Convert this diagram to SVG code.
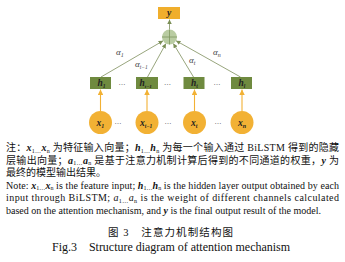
<svg xmlns="http://www.w3.org/2000/svg" width="345" height="262" viewBox="0 0 345 262">
<style>
.hbox{fill:#6F8A3F}
.xc{fill:#F2B134}
.ybox{fill:#F0AE2C}
.conn{stroke:#8C9B6E;stroke-width:0.9;fill:none}
.oconn{stroke:#F2B134;stroke-width:1.1;fill:none}
.lbl{font-family:"Liberation Serif",serif;font-style:italic;font-weight:bold;font-size:9.5px;fill:#222}
.alpha{font-family:"Liberation Serif",serif;font-style:italic;font-size:9px;fill:#444}
.dots{font-family:"Liberation Serif",serif;font-size:7px;fill:#444}
.note{font-family:"Liberation Serif","Noto Sans CJK SC",serif;font-size:10px;fill:#111}
.cap{font-family:"Liberation Serif","Noto Sans CJK SC",serif;fill:#111}
.bi{font-style:italic;font-weight:bold}
.it{font-style:italic}
</style>
<defs>
<marker id="ga" viewBox="0 0 10 10" refX="10" refY="5" markerWidth="5" markerHeight="5" orient="auto"><path d="M0,0 L10,5 L0,10 z" fill="#7A8E55"/></marker>
<marker id="oa" viewBox="0 0 10 10" refX="10" refY="5" markerWidth="5" markerHeight="5" orient="auto"><path d="M0,0 L10,5 L0,10 z" fill="#F2B134"/></marker>
</defs>
<g id="connectors">
<line class="conn" x1="169.5" y1="29.5" x2="169.5" y2="19.5" marker-end="url(#ga)"/>
<line class="conn" x1="101" y1="77" x2="163.1" y2="40.8" marker-end="url(#ga)"/>
<line class="conn" x1="147.5" y1="77" x2="165.9" y2="43.6" marker-end="url(#ga)"/>
<line class="conn" x1="193.5" y1="77" x2="173.3" y2="43.5" marker-end="url(#ga)"/>
<line class="conn" x1="240.5" y1="77" x2="176" y2="40.7" marker-end="url(#ga)"/>
<line class="oconn" x1="100.5" y1="111" x2="100.5" y2="89.5" marker-end="url(#oa)"/>
<line class="oconn" x1="147" y1="111" x2="147" y2="89.5" marker-end="url(#oa)"/>
<line class="oconn" x1="194.5" y1="111" x2="194.5" y2="89.5" marker-end="url(#oa)"/>
<line class="oconn" x1="242" y1="111" x2="242" y2="89.5" marker-end="url(#oa)"/>
<text class="alpha" x="116" y="55">α<tspan font-size="6" dy="1.5">1</tspan></text>
<text class="alpha" x="135" y="67">α<tspan font-size="5.5" dy="1.5">t−1</tspan></text>
<text class="alpha" x="189" y="63">α<tspan font-size="6" dy="1.5">t</tspan></text>
<text class="alpha" x="213" y="55">α<tspan font-size="6" dy="1.5">n</tspan></text>
</g>
<g id="y">
<rect class="ybox" x="158" y="7" width="22" height="12"/>
<text class="lbl" x="169" y="16" text-anchor="middle" font-weight="normal">y</text>
</g>
<g id="sum">
<circle cx="169.5" cy="37" r="7.5" fill="#B9CCA2"/>
<line x1="169.5" y1="29.5" x2="169.5" y2="44.5" stroke="#7F9760" stroke-width="0.8"/>
<line x1="162" y1="37" x2="177" y2="37" stroke="#7F9760" stroke-width="0.8"/>
</g>
<g id="h1"><rect class="hbox" x="90" y="77" width="21" height="12"/><text class="lbl" x="97.5" y="86">h<tspan font-size="5.5" dy="1.5">1</tspan></text></g>
<g id="ht1"><rect class="hbox" x="136" y="77" width="22" height="12"/><text class="lbl" x="139.5" y="86">h<tspan font-size="5" dy="1.5">t−1</tspan></text></g>
<g id="ht"><rect class="hbox" x="183.5" y="77" width="21" height="12"/><text class="lbl" x="191" y="86">h<tspan font-size="5.5" dy="1.5">t</tspan></text></g>
<g id="hl"><rect class="hbox" x="231" y="77" width="21" height="12"/><text class="lbl" x="238.5" y="86">h<tspan font-size="5.5" dy="1.5">l</tspan></text></g>
<g id="x1"><circle class="xc" cx="100.5" cy="122.5" r="11.5"/><text class="lbl" x="96.5" y="126" font-size="10.5">x<tspan font-size="6" dy="1.5">1</tspan></text></g>
<g id="xt1"><circle class="xc" cx="147" cy="122.5" r="11.5"/><text class="lbl" x="140" y="126" font-size="10.5">x<tspan font-size="5.5" dy="1.5">t−1</tspan></text></g>
<g id="xt"><circle class="xc" cx="194.5" cy="122.5" r="11.5"/><text class="lbl" x="191" y="126" font-size="10.5">x<tspan font-size="6" dy="1.5">t</tspan></text></g>
<g id="xn"><circle class="xc" cx="242" cy="122.5" r="11.5"/><text class="lbl" x="238" y="126" font-size="10.5">x<tspan font-size="6" dy="1.5">n</tspan></text></g>
<g id="dots">
<text class="dots" x="122" y="85" text-anchor="middle">…</text>
<text class="dots" x="167.5" y="85" text-anchor="middle">…</text>
<text class="dots" x="217" y="85" text-anchor="middle">…</text>
<text class="dots" x="118" y="124" text-anchor="middle">…</text>
<text class="dots" x="168" y="124" text-anchor="middle">…</text>
<text class="dots" x="218" y="124" text-anchor="middle">…</text>
</g>
<g id="notes">
<text class="note" x="6" y="151" textLength="333" lengthAdjust="spacing">注：<tspan class="bi">x</tspan><tspan font-size="6" dy="1.5">1…</tspan><tspan class="bi" dy="-1.5">x</tspan><tspan font-size="6" dy="1.5">n</tspan><tspan dy="-1.5"> 为特征输入向量；</tspan><tspan class="bi">h</tspan><tspan font-size="6" dy="1.5">1…</tspan><tspan class="bi" dy="-1.5">h</tspan><tspan font-size="6" dy="1.5">n</tspan><tspan dy="-1.5"> 为每一个输入通过 BiLSTM 得到的隐藏</tspan></text>
<text class="note" x="6" y="163.5" textLength="333" lengthAdjust="spacing">层输出向量；<tspan class="bi">a</tspan><tspan font-size="6" dy="1.5">1…</tspan><tspan class="bi" dy="-1.5">a</tspan><tspan font-size="6" dy="1.5">n</tspan><tspan dy="-1.5"> 是基于注意力机制计算后得到的不同通道的权重，</tspan><tspan class="bi">y</tspan> 为</text>
<text class="note" x="6" y="176">最终的模型输出结果。</text>
<text class="note" x="6" y="188.5" textLength="333" lengthAdjust="spacing">Note: <tspan class="bi">x</tspan><tspan font-size="6" dy="1.5">1…</tspan><tspan class="bi" dy="-1.5">x</tspan><tspan font-size="6" dy="1.5">n</tspan><tspan dy="-1.5"> is the feature input; </tspan><tspan class="bi">h</tspan><tspan font-size="6" dy="1.5">1…</tspan><tspan class="bi" dy="-1.5">h</tspan><tspan font-size="6" dy="1.5">n</tspan><tspan dy="-1.5"> is the hidden layer output obtained by each</tspan></text>
<text class="note" x="6" y="201" textLength="333" lengthAdjust="spacing">input through BiLSTM; <tspan class="it">a</tspan><tspan font-size="6" dy="1.5">1…</tspan><tspan class="it" dy="-1.5">a</tspan><tspan font-size="6" dy="1.5">n</tspan><tspan dy="-1.5"> is the weight of different channels calculated</tspan></text>
<text class="note" x="6" y="213.5">based on the attention mechanism, and <tspan class="bi">y</tspan> is the final output result of the model.</text>
</g>
<g id="caption">
<text class="cap" x="108" y="236" font-size="10.5" textLength="125" lengthAdjust="spacing">图 3　注意力机制结构图</text>
<text class="cap" x="52" y="251" font-size="12" textLength="238" lengthAdjust="spacing">Fig.3　Structure diagram of attention mechanism</text>
</g>
</svg>
